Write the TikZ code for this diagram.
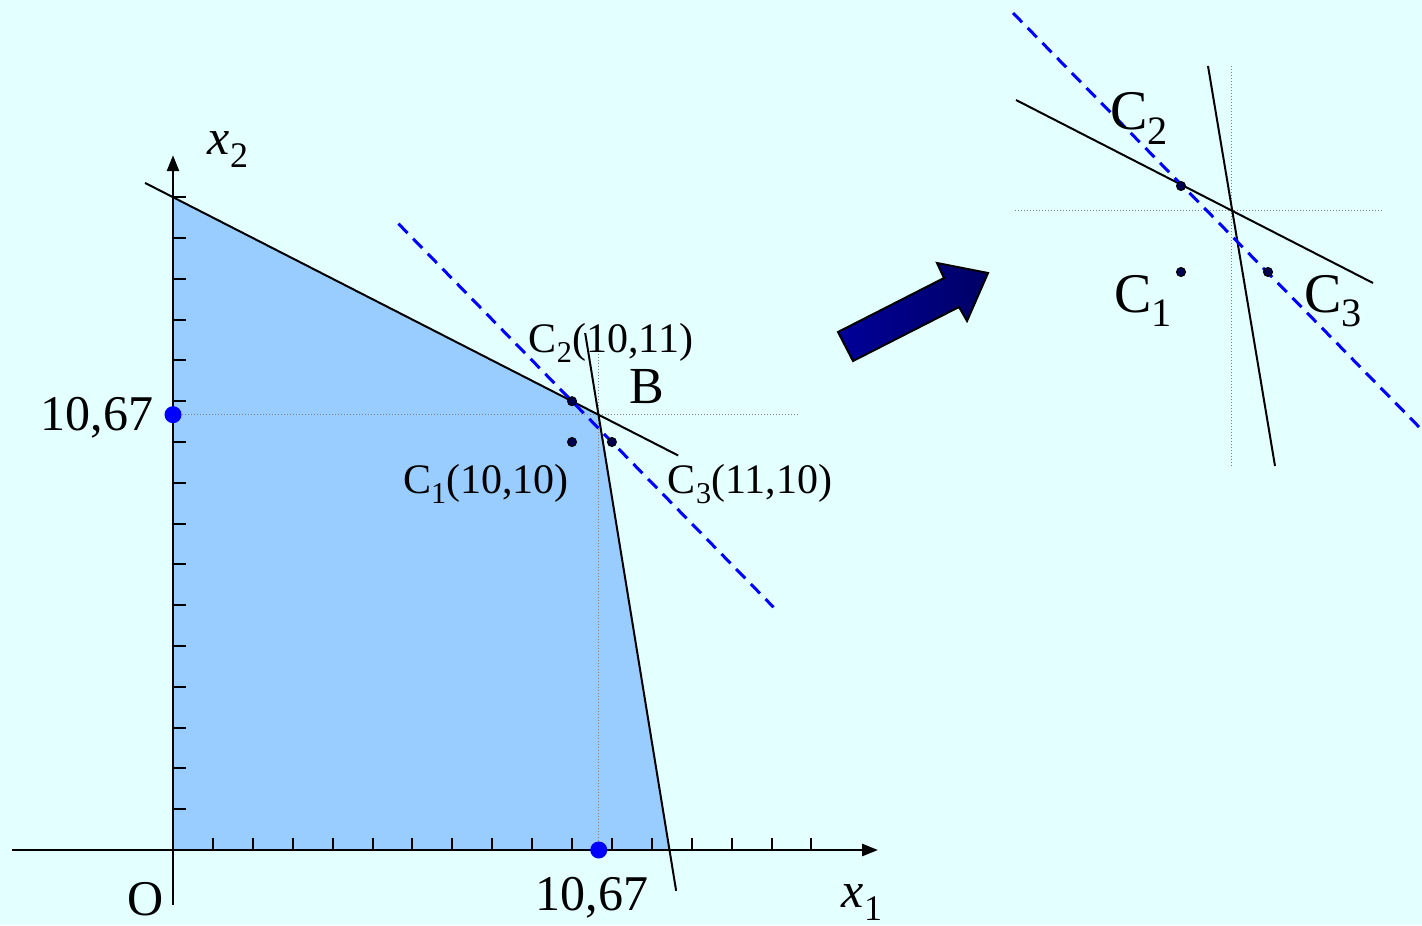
\documentclass[tikz,border=0pt]{standalone}
\usepackage{fontspec}
\setmainfont{Liberation Serif}
\usepackage{graphicx}
\usetikzlibrary{arrows.meta}

\definecolor{bgcyan}{HTML}{E3FFFF}
\definecolor{feasblue}{HTML}{99CCFF}
\definecolor{dotnavy}{HTML}{000050}
\definecolor{arrowleft}{HTML}{000099}
\definecolor{arrowright}{HTML}{000066}

\newcommand{\low}[1]{\raisebox{-.26em}{\scalebox{.72}{#1}}}

\tikzset{
  axis/.style={line width=1.3pt, -{Triangle[length=8pt,width=6pt]}},
  tick/.style={line width=1pt},
  bound/.style={line width=1pt},
  objective/.style={blue, line width=1.5pt, dash pattern=on 6.5pt off 4pt},
  guide/.style={gray, line width=.5pt, densely dotted},
  pt/.style={circle, fill=dotnavy, draw=black, line width=.5pt, inner sep=0pt, minimum size=4.5pt},
  bigpt/.style={circle, fill=blue, inner sep=0pt, minimum size=8.5pt},
  lab/.style={anchor=base, inner sep=0pt, font=\fontsize{21}{23}\selectfont},
  biglab/.style={anchor=base, inner sep=0pt, font=\fontsize{25}{28}\selectfont},
  zoomlab/.style={anchor=base, inner sep=0pt, font=\fontsize{28}{30}\selectfont}
}

\begin{document}
\begin{tikzpicture}[x=0.5pt,y=-0.5pt]
  \useasboundingbox (0,0) rectangle (1422,925);
  \fill[bgcyan] (0,0) rectangle (1422,925);

  % main plot, in data units
  \begin{scope}[shift={(173,850)}, x=19.95pt, y=20.4pt]
    % Nodes
    \coordinate (O) at (0,0);
    \coordinate (B) at (10.67,10.67);
    \coordinate (xa) at (-4.04,0);
    \coordinate (xb) at (17.67,0);
    \coordinate (ya) at (0,-1.35);
    \coordinate (yb) at (0,17.03);
    \coordinate (r1a) at (-0.7,16.35);
    \coordinate (r1b) at (12.66,9.67);
    \coordinate (r2a) at (10.33,12.67);
    \coordinate (r2b) at (12.61,-1);
    \coordinate (za) at (5.65,15.35);
    \coordinate (zb) at (15.05,5.95);
    \coordinate (hb) at (15.64,10.67);
    \coordinate (vb) at (10.67,12.3);

    % feasible region
    \fill[feasblue] (O) -- (0,16) -- (B) -- (12.44,0) -- cycle;

    % Edges
    \draw[guide] (0,10.67) -- (hb);
    \draw[guide] (10.67,0) -- (vb);
    \draw[axis] (xa) -- (xb);
    \draw[axis] (ya) -- (yb);
    \foreach \i in {1,...,16} {
      \draw[tick] (\i,0) -- ++(0pt,6pt);
      \draw[tick] (0,\i) -- ++(6.5pt,0pt);
    }
    \draw[bound] (r1a) -- (r1b);
    \draw[bound] (r2a) -- (r2b);
    \draw[objective] (za) -- (zb);

    \node[pt] (c1) at (10,10) {};
    \node[pt] (c2) at (10,11) {};
    \node[pt] (c3) at (11,10) {};
    \node[bigpt] (p1) at (0,10.67) {};
    \node[bigpt] (p2) at (10.67,0) {};
  \end{scope}

  % labels
  \node[biglab] (lx2) at (228,155) {\textit{x}\low{2}};
  \node[biglab] (lx1) at (862,907) {\textit{x}\low{1}};
  \node[biglab] (lO) at (146,915) {O};
  \node[biglab] (lv) at (97,430) {10,67};
  \node[biglab] (lh) at (592,910) {10,67};
  \node[lab, font=\fontsize{26}{28}\selectfont] (lB) at (647,403) {B};
  \node[lab] (lc2) at (611,352) {C\low{2}(10,11)};
  \node[lab] (lc1) at (486,493) {C\low{1}(10,10)};
  \node[lab] (lc3) at (750,493) {C\low{3}(11,10)};

  % arrow
  \shadedraw[left color=arrowleft, right color=arrowright, draw=black, line width=1pt, line join=miter]
    (838,332) -- (944,278) -- (937,263) -- (988,273) -- (967,321) -- (959,307) -- (853,361) -- cycle;

  % zoomed view
  \coordinate (k1a) at (1016,100);
  \coordinate (k1b) at (1373,283);
  \coordinate (k2a) at (1208,66);
  \coordinate (k2b) at (1275,466);
  \coordinate (kza) at (1013,13);
  \coordinate (kzb) at (1422,430);
  \draw[guide] (1231,66) -- (1231,466);
  \draw[guide] (1015,211) -- (1384,211);
  \draw[bound] (k1a) -- (k1b);
  \draw[bound] (k2a) -- (k2b);
  \draw[objective] (kza) -- (kzb);
  \node[pt] (k2) at (1181,186) {};
  \node[pt] (k1) at (1181,272) {};
  \node[pt] (k3) at (1268,272) {};
  \node[zoomlab] (lk2) at (1139,130) {C\low{2}};
  \node[zoomlab] (lk1) at (1143,312) {C\low{1}};
  \node[zoomlab] (lk3) at (1333,312) {C\low{3}};
\end{tikzpicture}
\end{document}
